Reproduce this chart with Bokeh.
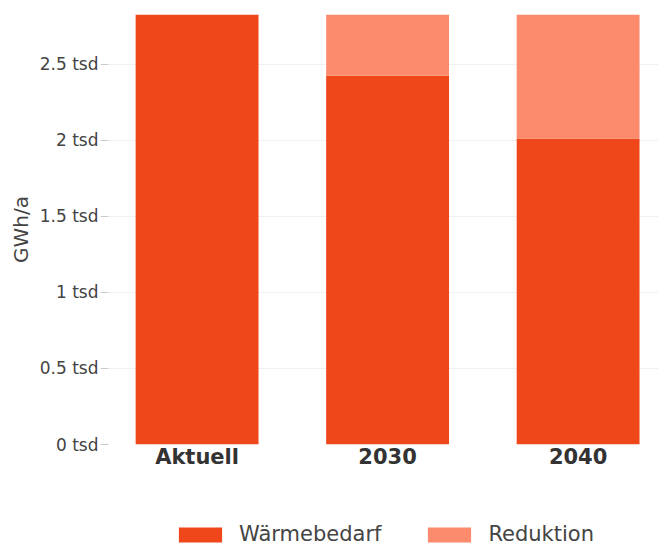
from bokeh.plotting import figure
from bokeh.layouts import column
from bokeh.models import Range1d, FixedTicker, Legend, LegendItem, ColumnDataSource
from bokeh.embed import file_html
from bokeh.resources import INLINE

categories = ["Aktuell", "2030", "2040"]
waermebedarf = [2827, 2425, 2011]
reduktion = [0, 402, 816]
series_names = ["Wärmebedarf", "Reduktion"]
y_ticks = [0, 500, 1000, 1500, 2000, 2500]
y_tick_labels = ["0 tsd", "0.5 tsd", "1 tsd", "1.5 tsd", "2 tsd", "2.5 tsd"]

DARK = "#F0471A"
LIGHT = "#FC8A6D"
TEXT = "#444444"
FONT = "DejaVu Sans"

xs = list(range(len(categories)))
tops = [w + r for w, r in zip(waermebedarf, reduktion)]
src = ColumnDataSource(dict(x=xs, w=waermebedarf, r=reduktion, top=tops))

p = figure(width=658, height=505, output_backend="svg", toolbar_location=None,
           x_range=Range1d(-0.465, 2.422), y_range=Range1d(0, max(tops)),
           min_border_left=108, min_border_top=14, min_border_right=0,
           min_border_bottom=61)
p.outline_line_color = None

r1 = p.vbar(x="x", top="w", bottom=0, width=0.645, source=src, fill_color=DARK, line_color=None)
r2 = p.vbar(x="x", top="top", bottom="w", width=0.645, source=src, fill_color=LIGHT, line_color=None)

p.xgrid.grid_line_color = None
p.ygrid.grid_line_color = "#F0F0F0"
p.ygrid.grid_line_width = 1

p.xaxis.ticker = FixedTicker(ticks=xs)
p.xaxis.major_label_overrides = {i: c for i, c in zip(xs, categories)}
p.xaxis.axis_line_color = None
p.xaxis.major_tick_line_color = None
p.xaxis.minor_tick_line_color = None
p.xaxis.major_label_text_font = FONT
p.xaxis.major_label_text_font_style = "bold"
p.xaxis.major_label_text_font_size = "21px"
p.xaxis.major_label_text_color = "#333333"
p.xaxis.major_label_standoff = -6

p.yaxis.ticker = FixedTicker(ticks=y_ticks)
p.yaxis.major_label_overrides = {t: l for t, l in zip(y_ticks, y_tick_labels)}
p.yaxis.axis_line_color = None
p.yaxis.major_tick_line_color = "#CCCCCC"
p.yaxis.major_tick_out = 8
p.yaxis.major_tick_in = 0
p.yaxis.minor_tick_line_color = None
p.yaxis.major_label_text_font = FONT
p.yaxis.major_label_text_font_size = "17px"
p.yaxis.major_label_text_color = TEXT
p.yaxis.major_label_standoff = 2
p.yaxis.axis_label = "GWh/a"
p.yaxis.axis_label_text_font = FONT
p.yaxis.axis_label_text_font_size = "20px"
p.yaxis.axis_label_text_font_style = "normal"
p.yaxis.axis_label_text_color = TEXT
p.yaxis.axis_label_standoff = 4

# legend strip below the chart (frames are aligned with the chart above)
lg = figure(width=658, height=40, output_backend="svg", toolbar_location=None,
            x_range=Range1d(0, 1), y_range=Range1d(0, 1),
            x_axis_type=None, y_axis_type=None,
            min_border_left=0, min_border_right=0, min_border_top=0, min_border_bottom=0)
lg.outline_line_color = None
lg.xgrid.grid_line_color = None
lg.ygrid.grid_line_color = None
l1 = lg.vbar(x="x", top="w", bottom=0, width=0.645, source=src, fill_color=DARK,
             line_color=None, visible=False)
l2 = lg.vbar(x="x", top="top", bottom="w", width=0.645, source=src, fill_color=LIGHT,
             line_color=None, visible=False)

legend = Legend(items=[LegendItem(label=series_names[0], renderers=[l1]),
                       LegendItem(label=series_names[1], renderers=[l2])],
                orientation="horizontal", location=(65, -1),
                glyph_width=54, glyph_height=19, label_standoff=12, spacing=41,
                label_text_font=FONT, label_text_font_size="21px", label_text_color=TEXT,
                border_line_color=None, background_fill_alpha=0, padding=0, margin=0,
                inactive_fill_alpha=0)
lg.add_layout(legend, "center")

layout = column(p, lg, spacing=0)
open("out.html", "w").write(file_html(layout, INLINE))
